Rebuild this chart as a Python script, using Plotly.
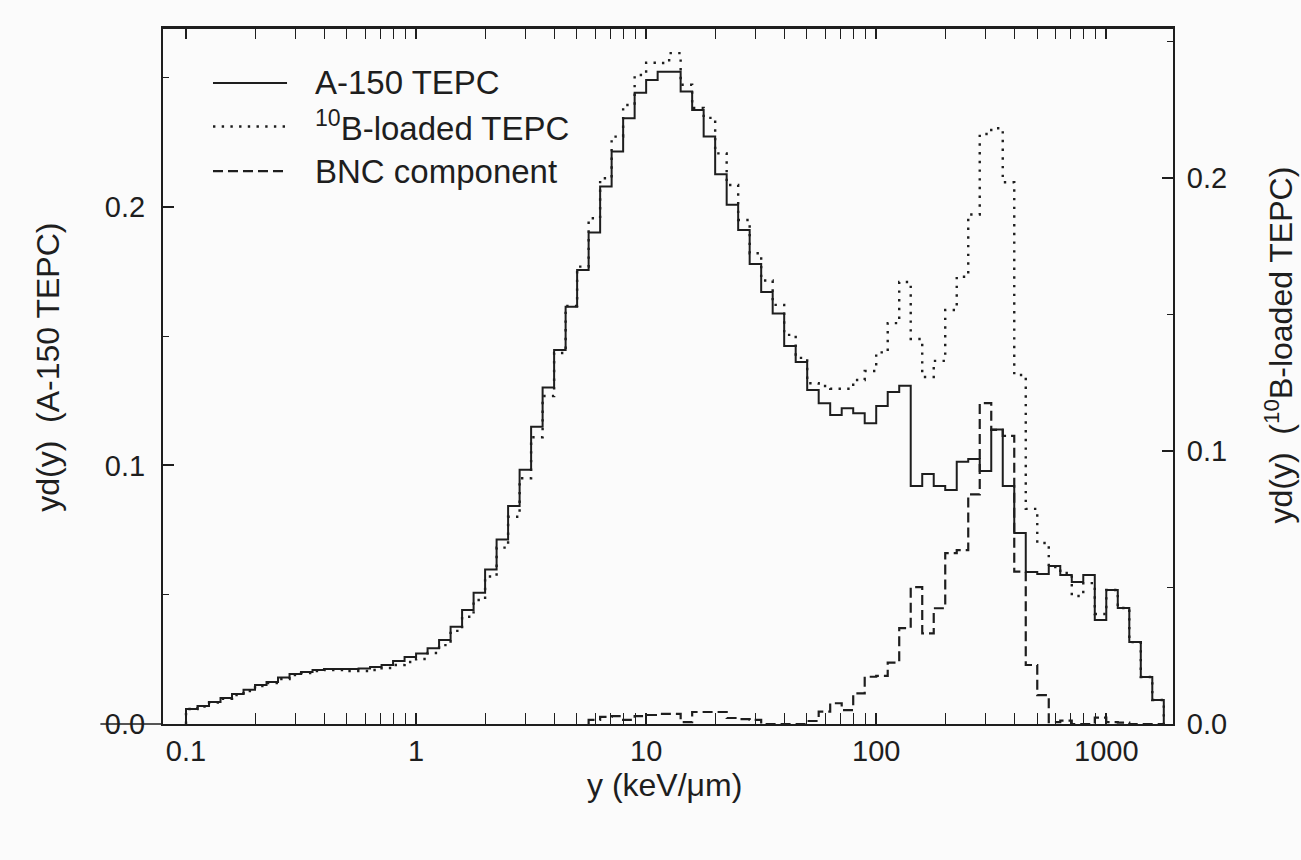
import plotly.graph_objects as go

# ---------------- data ----------------
# Histogram bins: 20 logarithmic bins per decade, starting at y = 0.1 keV/um
BIN_START_LOG = -1.0
BINS_PER_DECADE = 20
N_BINS = 85

# A-150 TEPC, yd(y) (left axis), one value per bin
a150 = [0.0058, 0.0070, 0.0085, 0.0101, 0.0116, 0.0132, 0.0151, 0.0162, 0.0180, 0.0193,
        0.0201, 0.0209, 0.0213, 0.0213, 0.0213, 0.0215, 0.0220, 0.0228, 0.0244, 0.0259,
        0.0273, 0.0293, 0.0325, 0.0376, 0.0441, 0.0508, 0.0598, 0.0714, 0.0843, 0.0983,
        0.1150, 0.1302, 0.1447, 0.1614, 0.1756, 0.1901, 0.2079, 0.2214, 0.2343, 0.2442,
        0.2491, 0.2523, 0.2523, 0.2446, 0.2375, 0.2272, 0.2126, 0.2008, 0.1911, 0.1779,
        0.1671, 0.1588, 0.1462, 0.1400, 0.1292, 0.1241, 0.1195, 0.1221, 0.1202, 0.1163,
        0.1230, 0.1284, 0.1308, 0.0921, 0.0967, 0.0921, 0.0905, 0.1014, 0.1025, 0.0979,
        0.1139, 0.0921, 0.0739, 0.0588, 0.0580, 0.0611, 0.0576, 0.0549, 0.0576, 0.0402,
        0.0518, 0.0449, 0.0317, 0.0182, 0.0093]

# 10B-loaded TEPC, yd(y) (right axis)
b10 = [0.0055, 0.0064, 0.0079, 0.0092, 0.0106, 0.0121, 0.0139, 0.0150, 0.0165, 0.0179,
       0.0187, 0.0194, 0.0198, 0.0198, 0.0194, 0.0194, 0.0198, 0.0205, 0.0216, 0.0227,
       0.0238, 0.0260, 0.0289, 0.0341, 0.0393, 0.0454, 0.0540, 0.0646, 0.0759, 0.0900,
       0.1050, 0.1201, 0.1359, 0.1531, 0.1675, 0.1852, 0.1999, 0.2151, 0.2267, 0.2377,
       0.2422, 0.2421, 0.2457, 0.2341, 0.2256, 0.2220, 0.2090, 0.1974, 0.1846, 0.1724,
       0.1624, 0.1535, 0.1425, 0.1341, 0.1248, 0.1238, 0.1228, 0.1228, 0.1260, 0.1293,
       0.1361, 0.1468, 0.1619, 0.1410, 0.1271, 0.1330, 0.1516, 0.1638, 0.1866, 0.2161,
       0.2182, 0.1984, 0.1278, 0.0788, 0.0663, 0.0575, 0.0553, 0.0469, 0.0516, 0.0403,
       0.0491, 0.0425, 0.0300, 0.0172, 0.0088]

# BNC component (right axis), starting at bin 35
BNC_FIRST_BIN = 35
bnc = [0.0015, 0.0026, 0.0029, 0.0015, 0.0029, 0.0033, 0.0037, 0.0037, 0.0007, 0.0044,
       0.0044, 0.0044, 0.0022, 0.0018, 0.0015, 0.0, 0.0, 0.0, 0.0, 0.0011,
       0.0045, 0.0076, 0.0051, 0.0112, 0.0173, 0.0176, 0.0225, 0.0351, 0.0501, 0.0332,
       0.0424, 0.0626, 0.0637, 0.0841, 0.1175, 0.1077, 0.1055, 0.0558, 0.0216, 0.0106,
       0.0007, 0.0012, 0.0, 0.0, 0.0023, 0.0007, 0.0005, 0.0, 0.0, 0.0]

x_tick_vals = [0.1, 1, 10, 100, 1000]
x_tick_text = ["0.1", "1", "10", "100", "1000"]
y_tick_vals = [0.0, 0.1, 0.2]
y_tick_text = ["0.0", "0.1", "0.2"]

legend_names = ["A-150 TEPC", "<sup>10</sup>B-loaded TEPC", "BNC component"]

# ---------------- build ----------------
edges = [10 ** (BIN_START_LOG + k / BINS_PER_DECADE) for k in range(N_BINS + 1)]


def step_xy(vals, first=0):
    n = len(vals)
    xs = [edges[first]] + edges[first:first + n] + [edges[first + n], edges[first + n]]
    ys = [0.0] + list(vals) + [vals[-1], 0.0]
    return xs, ys


INK = "#1e1e1e"
FONT = "Liberation Sans, Arial, sans-serif"
TICK_SIZE = 29
TITLE_SIZE = 32
LEGEND_SIZE = 33

styles = [
    dict(color=INK, width=2.0, dash="solid"),
    dict(color=INK, width=2.4, dash="2.4px,6.3px"),
    dict(color=INK, width=2.2, dash="10px,5px"),
]

fig = go.Figure()
xs, ys = step_xy(a150)
fig.add_trace(go.Scatter(x=xs, y=ys, mode="lines", line_shape="hv", line=styles[0],
                         name=legend_names[0], yaxis="y", showlegend=False))
xs, ys = step_xy(b10)
fig.add_trace(go.Scatter(x=xs, y=ys, mode="lines", line_shape="hv", line=styles[1],
                         name=legend_names[1], yaxis="y2", showlegend=False))
xs, ys = step_xy(bnc, BNC_FIRST_BIN)
fig.add_trace(go.Scatter(x=xs, y=ys, mode="lines", line_shape="hv", line=styles[2],
                         name=legend_names[2], yaxis="y2", showlegend=False))

minor_x = [m * 10 ** d for d in range(-1, 4) for m in range(2, 10) if m * 10 ** d < 1800]
tickfont = dict(family=FONT, color=INK, size=TICK_SIZE)

fig.update_layout(
    width=1301, height=860,
    margin=dict(l=163, r=128, t=28, b=136),
    paper_bgcolor="#fbfbfb", plot_bgcolor="#fbfbfb",
    font=dict(family=FONT, color=INK, size=TICK_SIZE),
    xaxis=dict(type="log", range=[-1.1, 3.29], showgrid=False, zeroline=False,
               showline=True, linecolor=INK, linewidth=2, mirror="allticks",
               ticks="inside", ticklen=11, tickwidth=1.5, tickcolor=INK,
               tickvals=x_tick_vals, ticktext=x_tick_text, ticklabelstandoff=0,
               tickfont=tickfont,
               minor=dict(ticks="inside", ticklen=6, tickwidth=1.2, tickcolor=INK,
                          tickvals=minor_x, showgrid=False)),
    yaxis=dict(range=[0, 0.2692], showgrid=False, zeroline=False,
               showline=True, linecolor=INK, linewidth=2,
               ticks="inside", ticklen=11, tickwidth=1.5, tickcolor=INK,
               tickvals=y_tick_vals, ticktext=y_tick_text, ticklabelstandoff=10,
               tickfont=tickfont,
               minor=dict(ticks="inside", ticklen=6, tickwidth=1.2, tickcolor=INK,
                          dtick=0.05, showgrid=False)),
    yaxis2=dict(range=[0, 0.2549], overlaying="y", side="right", showgrid=False,
                zeroline=False, showline=True, linecolor=INK, linewidth=2,
                ticks="inside", ticklen=11, tickwidth=1.5, tickcolor=INK,
                tickvals=y_tick_vals, ticktext=y_tick_text, ticklabelstandoff=6,
                tickfont=tickfont,
                minor=dict(ticks="inside", ticklen=6, tickwidth=1.2, tickcolor=INK,
                           dtick=0.05, showgrid=False)),
)

# top frame line
fig.add_shape(type="line", xref="paper", yref="paper", x0=0, x1=1, y0=1, y1=1,
              line=dict(color=INK, width=2))
# stroke through the "0.0" label on the left
fig.add_shape(type="line", xref="paper", yref="paper", x0=-0.062, x1=0, y0=0, y1=0,
              line=dict(color=INK, width=1.5))

# manual legend
leg_y = [0.921, 0.8585, 0.7945]
for name, st, yy in zip(legend_names, styles, leg_y):
    fig.add_shape(type="line", xref="paper", yref="paper", x0=0.0495, x1=0.1228,
                  y0=yy, y1=yy, line=st)
    fig.add_annotation(xref="paper", yref="paper", x=0.1485, y=yy, text=name,
                       showarrow=False, xanchor="left", yanchor="middle",
                       font=dict(size=LEGEND_SIZE, family=FONT, color=INK))

# axis titles
fig.add_annotation(xref="paper", yref="paper", x=0.497, y=-0.088, text="y (keV/μm)",
                   showarrow=False, xanchor="center", yanchor="middle",
                   font=dict(size=TITLE_SIZE, family=FONT, color=INK))
fig.add_annotation(xref="paper", yref="paper", x=-0.114, y=0.513,
                   text="yd(y)  (A-150 TEPC)", textangle=-90,
                   showarrow=False, xanchor="center", yanchor="middle",
                   font=dict(size=TITLE_SIZE, family=FONT, color=INK))
fig.add_annotation(xref="paper", yref="paper", x=1.1045, y=0.5445,
                   text="yd(y)  (<sup>10</sup>B-loaded TEPC)", textangle=-90,
                   showarrow=False, xanchor="center", yanchor="middle",
                   font=dict(size=TITLE_SIZE, family=FONT, color=INK))

fig.write_html("out.html")
